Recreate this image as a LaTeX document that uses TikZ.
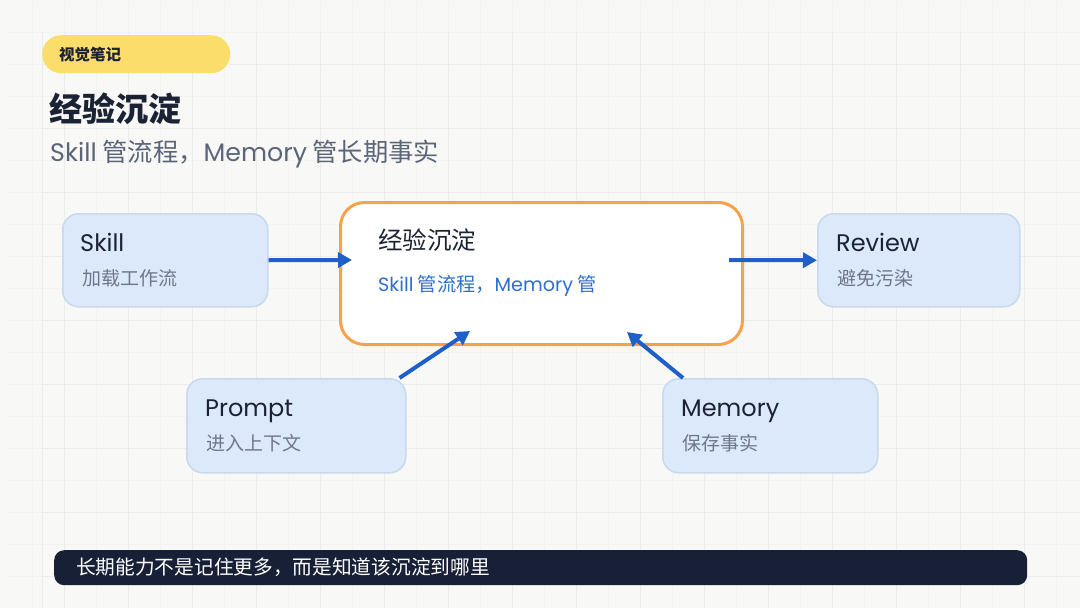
\documentclass[tikz,border=0pt]{standalone}
\usepackage{fontspec}
\setmainfont{Noto Sans CJK SC}
\newfontfamily\lat{Poppins}
\usetikzlibrary{arrows.meta,calc}
\definecolor{bgc}{HTML}{F8F8F6}
\definecolor{gridmin}{HTML}{F2F2F0}
\definecolor{gridmaj}{HTML}{ECECEA}
\definecolor{tagy}{HTML}{FBDD6B}
\definecolor{ink}{HTML}{1B2233}
\definecolor{subg}{HTML}{5B6579}
\definecolor{boxg}{HTML}{6E7787}
\definecolor{boxfill}{HTML}{DCE9FB}
\definecolor{boxline}{HTML}{C8D8EE}
\definecolor{orangeb}{HTML}{F6A24A}
\definecolor{bluet}{HTML}{2E6FCB}
\definecolor{arrowc}{HTML}{1F5FC9}
\definecolor{barc}{HTML}{172036}
\begin{document}
\begin{tikzpicture}[x=1pt,y=-1pt,
  txt/.style={inner sep=0pt,anchor=base west},
  sidebox/.style={draw=boxline,line width=1.5pt,fill=boxfill,rounded corners=16pt,anchor=north west,inner sep=0pt},
  btitle/.style={txt,text=ink,font=\lat\fontsize{24}{28}\selectfont},
  bsub/.style={txt,text=boxg,font=\fontsize{19}{22}\selectfont},
  flow/.style={draw=arrowc,line width=4pt,-{Triangle[length=14pt,width=15pt]}}
]
\useasboundingbox (0,0) rectangle (1080,608);
\fill[bgc] (0,0) rectangle (1080,608);
\draw[gridmin,line width=0.8pt] (10,1) grid[step=32pt] (1080,608);
\draw[gridmaj,line width=1pt] (42,33) grid[step=64pt] (1080,608);
\draw[gridmaj,line width=1pt] (42,33) -- (42,608);
% header
\node[fill=tagy,rounded corners=19pt,minimum width=188pt,minimum height=38pt,anchor=north west,inner sep=0pt] (tag) at (42,35) {};
\node[txt,text=ink,font=\bfseries\fontsize{15.5}{18}\selectfont] (tagt) at (59,60) {视觉笔记};
\node[txt,text=ink,font=\bfseries\fontsize{33}{38}\selectfont] (title) at (49,121) {经验沉淀};
\node[txt,text=subg,font=\fontsize{25.3}{29}\selectfont] (subtitle) at (50,161) {{\lat Skill} 管流程，{\lat Memory} 管长期事实};
% center
\node[draw=orangeb,line width=3pt,fill=white,rounded corners=24pt,minimum width=402pt,minimum height=142pt,anchor=north west,inner sep=0pt] (center) at (339,201) {};
\node[txt,text=ink,font=\fontsize{24.5}{28}\selectfont] (ct) at (378,249) {经验沉淀};
\node[txt,text=bluet,font=\fontsize{19.2}{22}\selectfont] (cs) at (378,291) {{\lat Skill} 管流程，{\lat Memory} 管};
% side boxes
\node[sidebox,minimum width=205pt,minimum height=93pt] (skill) at (62,213) {};
\node[btitle] (skillt) at (80,251) {Skill};
\node[bsub] (skills) at (82,285) {加载工作流};
\node[sidebox,minimum width=202pt,minimum height=93pt] (review) at (817,213) {};
\node[btitle] (reviewt) at (836,251) {Review};
\node[bsub] (reviews) at (837,285) {避免污染};
\node[sidebox,minimum width=219pt,minimum height=94pt] (prompt) at (186,378) {};
\node[btitle] (promptt) at (205,416) {Prompt};
\node[bsub] (prompts) at (206,450) {进入上下文};
\node[sidebox,minimum width=215pt,minimum height=94pt] (memory) at (662,378) {};
\node[btitle] (memoryt) at (681,416) {Memory};
\node[bsub] (memorys) at (682,450) {保存事实};
% arrows
\coordinate (inL) at (352,260);
\coordinate (outR) at (729,260);
\coordinate (inP) at (470,331);
\coordinate (inM) at (627,332);
\draw[flow] (skill.east) -- (inL);
\draw[flow] (outR) -- (review.west);
\draw[flow] ([xshift=-7pt]prompt.north east) -- (inP);
\draw[flow] ([xshift=21pt]memory.north west) -- (inM);
% bottom bar
\node[fill=barc,rounded corners=10pt,minimum width=973pt,minimum height=35pt,anchor=north west,inner sep=0pt] (bar) at (54,550) {};
\node[txt,text=white,font=\fontsize{19.7}{23}\selectfont] (bart) at (76,574) {长期能力不是记住更多，而是知道该沉淀到哪里};
\end{tikzpicture}
\end{document}
